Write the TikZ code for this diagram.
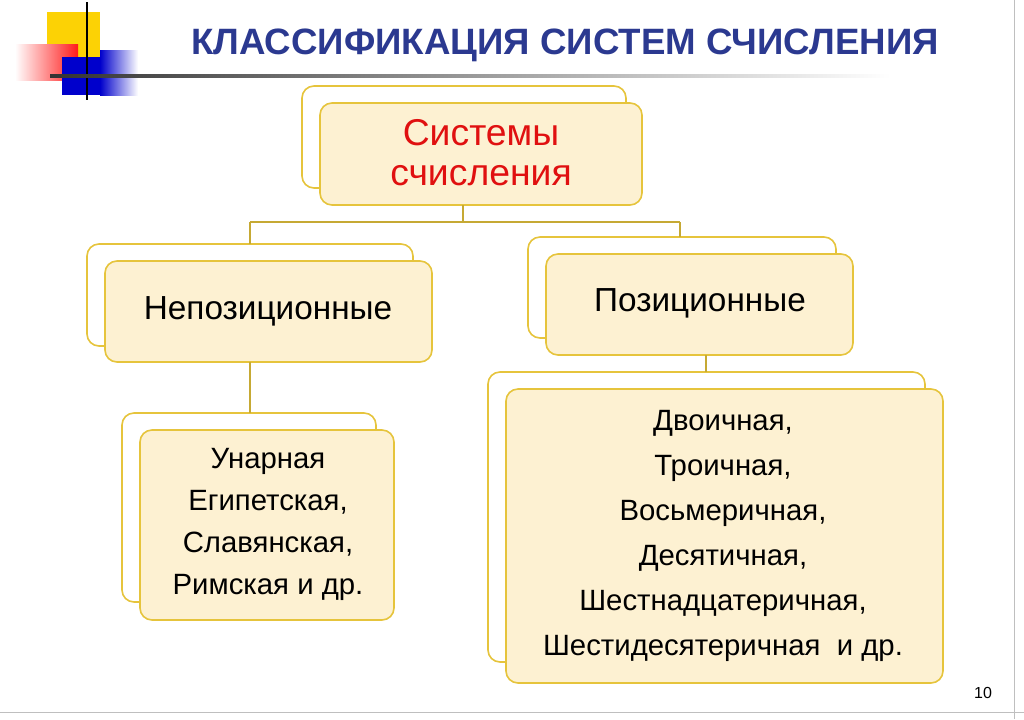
\documentclass[tikz,border=0pt]{standalone}
\usepackage{fontspec}
\setmainfont{Liberation Sans}
\definecolor{ttl}{HTML}{2B3990}
\definecolor{bord}{HTML}{E6C43C}
\definecolor{fillc}{HTML}{FDF1D2}
\definecolor{redt}{HTML}{E01010}
\begin{document}
\begin{tikzpicture}[x=0.75pt,y=-0.75pt,
  back/.style={draw=bord,line width=1.2pt,rounded corners=9pt,fill=white},
  front/.style={draw=bord,line width=1.2pt,rounded corners=9pt,fill=fillc},
  conn/.style={draw=bord!80!black!70!bord,line width=1.2pt},
  lbl/.style={align=center}]
\useasboundingbox (0,0) rectangle (1024,719);
\fill[white] (0,0) rectangle (1024,719);
% decoration
\fill[yellow!70!orange] (47,12) rectangle (100,57);
\shade[left color=white, right color=red!90] (15,44) rectangle (78,80);
\fill[blue!80!black] (62,57) rectangle (100,95);
\shade[left color=blue!80!black,right color=white] (100,50) rectangle (138,95);
\draw[black,line width=2pt] (87,2) -- (87,100);
\shade[left color=black!80,right color=white] (50,74.5) rectangle (890,77.5);
\node[font=\bfseries\fontsize{27.5}{32}\selectfont,text=ttl] (title) at (565,45) {КЛАССИФИКАЦИЯ СИСТЕМ СЧИСЛЕНИЯ};
% boxes
\draw[back] (302,86) rectangle (626,188);
\draw[front] (320,103) rectangle (642,205);
\node[lbl,text=redt,font=\fontsize{28}{30}\selectfont] (top) at (481,153) {Системы\\счисления};
\draw[back] (87,244) rectangle (413,346);
\draw[front] (105,261) rectangle (432,362);
\node[lbl,font=\fontsize{25}{30}\selectfont] (np) at (268,311) {Непозиционные};
\draw[back] (528,237) rectangle (836,338);
\draw[front] (546,254) rectangle (853,355);
\node[lbl,font=\fontsize{25}{30}\selectfont] (p) at (700,303) {Позиционные};
\draw[back] (122,413) rectangle (376,602);
\draw[front] (140,430) rectangle (394,620);
\node[lbl,font=\fontsize{22}{31.5}\selectfont] (nl) at (268,524) {Унарная\\Египетская,\\Славянская,\\Римская и др.};
\draw[back] (488,372) rectangle (925,662);
\draw[front] (506,389) rectangle (943,683);
\node[lbl,font=\fontsize{22}{33.7}\selectfont] (pl) at (723,536) {Двоичная,\\Троичная,\\Восьмеричная,\\Десятичная,\\Шестнадцатеричная,\\Шестидесятеричная\ \ и др.};
% connectors
\coordinate (a) at (463,205); \coordinate (b) at (463,222);
\coordinate (l) at (250,222); \coordinate (r) at (680,222);
\draw[conn] (a) -- (b) (l) -- (r) (l) -- (250,244) (r) -- (680,237);
\draw[conn] (250,362) -- (250,413);
\draw[conn] (706,355) -- (706,372);
\node[font=\fontsize{12}{14}\selectfont] (num) at (983,693) {10};
\draw[black!25] (1014,0) -- (1014,719);
\draw[black!25] (0,712) -- (1024,712);
\end{tikzpicture}
\end{document}
